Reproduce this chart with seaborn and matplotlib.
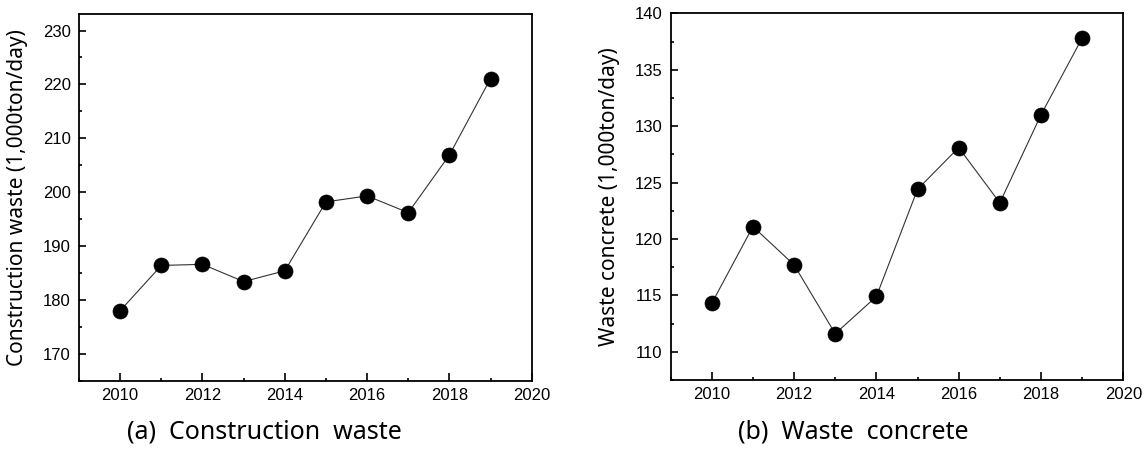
import matplotlib
matplotlib.use("Agg")
import matplotlib.pyplot as plt
from matplotlib.ticker import MultipleLocator
import numpy as np
import pandas as pd
import seaborn as sns

# Data
years = [2010, 2011, 2012, 2013, 2014, 2015, 2016, 2017, 2018, 2019]
construction_waste = [178.0, 186.4, 186.6, 183.4, 185.4, 198.2, 199.3, 196.2, 206.9, 221.1]
waste_concrete = [114.3, 121.1, 117.7, 111.6, 114.9, 124.4, 128.1, 123.2, 131.0, 137.8]

ylabels = ["Construction waste (1,000ton/day)", "Waste concrete (1,000ton/day)"]
captions = ["(a)  Construction  waste", "(b)  Waste  concrete"]

sns.set_theme(style="ticks")
plt.rcParams['font.family'] = ['Liberation Sans', 'DejaVu Sans']
label_font = ['Noto Sans', 'DejaVu Sans']

fig = plt.figure(figsize=(11.47, 4.5), dpi=100)
ax1 = fig.add_axes([0.0689, 0.154, 0.3947, 0.814])
ax2 = fig.add_axes([0.5847, 0.1556, 0.3946, 0.8148])

df = pd.DataFrame({'year': years, 'cw': construction_waste, 'wc': waste_concrete})

settings = [
    (ax1, 'cw', (165, 233), 10, 5),
    (ax2, 'wc', (107.5, 140), 5, 2.5),
]

for i, (ax, col, ylim, major, minor) in enumerate(settings):
    sns.lineplot(data=df, x='year', y=col, ax=ax, color='#333333', linewidth=0.8,
                 marker='o', markersize=10.8, markerfacecolor='black',
                 markeredgecolor='black', markeredgewidth=0.5)
    ax.set_xlim(2009, 2020)
    ax.set_ylim(*ylim)
    ax.xaxis.set_major_locator(MultipleLocator(2))
    ax.xaxis.set_minor_locator(MultipleLocator(1))
    ax.yaxis.set_major_locator(MultipleLocator(major))
    ax.yaxis.set_minor_locator(MultipleLocator(minor))
    ax.tick_params(which='both', direction='in', top=False, right=False,
                   labelsize=12, colors='black', width=1.2)
    ax.tick_params(axis='x', which='major', length=6, pad=5)
    ax.tick_params(axis='y', which='major', length=5, pad=6)
    ax.tick_params(which='minor', length=2.5)
    for s in ax.spines.values():
        s.set_linewidth(1.3)
        s.set_color('black')
        s.set_visible(True)
    ax.set_xlabel('')
    ax.set_ylabel(ylabels[i], fontsize=15, family=label_font, color='black')
    ax.yaxis.set_label_coords(-0.113, 0.5)

fig.text(264 / 1147, 1 - 432 / 450, captions[0], fontsize=18, family=label_font,
         ha='center', va='center', color='black')
fig.text(853 / 1147, 1 - 432 / 450, captions[1], fontsize=18, family=label_font,
         ha='center', va='center', color='black')

fig.savefig('out.png', dpi=100)
